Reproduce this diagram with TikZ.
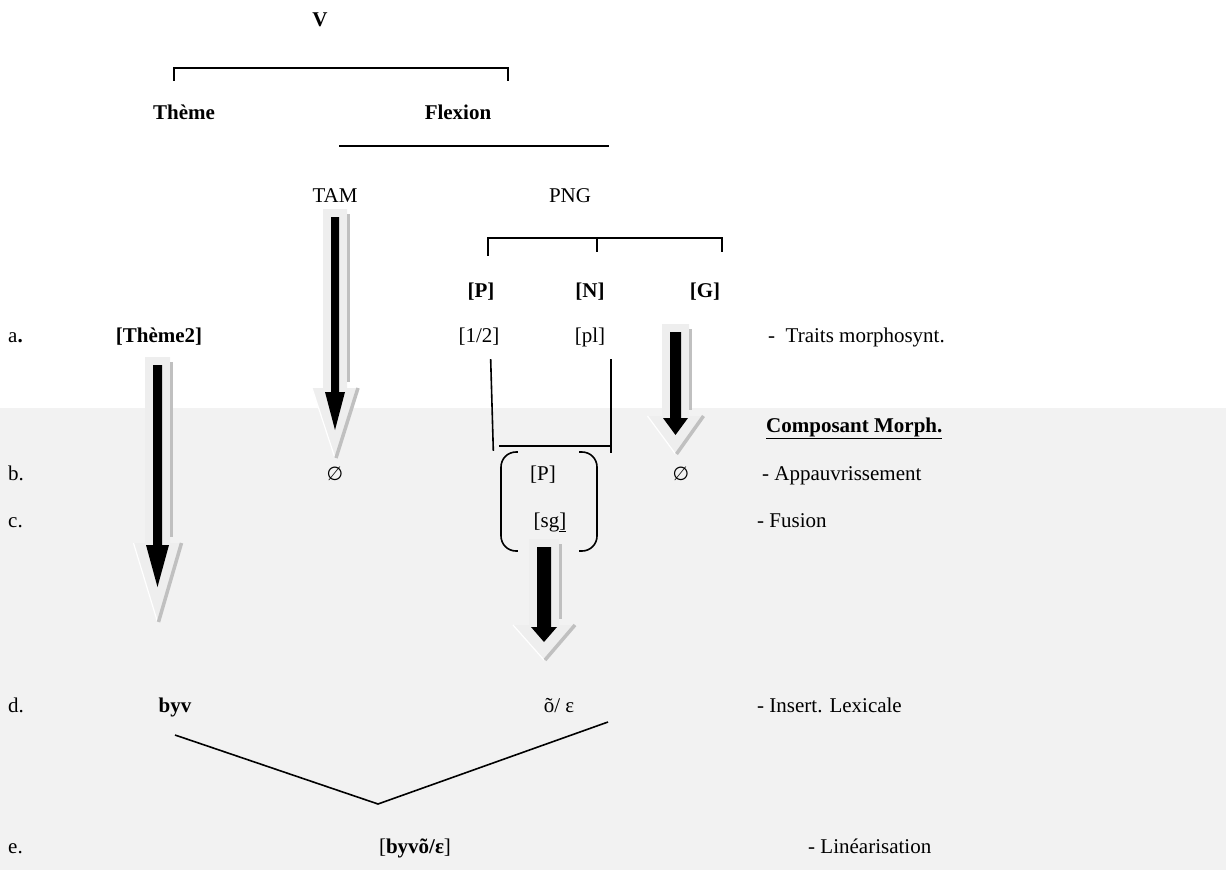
\documentclass[tikz,border=0pt]{standalone}
\usepackage{fontspec}
\setmainfont{Liberation Serif}
\newfontfamily\symfont{DejaVu Sans}
\definecolor{bggray}{HTML}{F2F2F2}
\definecolor{shadowgray}{HTML}{C0C0C0}
\definecolor{lightbox}{HTML}{EEEEEE}
% 3D block arrow: #1 cx, #2 top, #3 head start, #4 tip, #5 shaft half, #6 head half,
% #7 outer head half, #8 outer tip y, #9 outer head y
\newcommand\tdarrow[9]{%
  \fill[lightbox] (#1-#5-8,#2-8) -- (#1+#5+8,#2-8) -- (#1+#5+8,#9) -- (#1+#7,#9)
     -- (#1,#8) -- (#1-#7,#9) -- (#1-#5-8,#9) -- cycle;
  \draw[white, line width=1.2] (#1-#7,#9) -- (#1,#8);
  \draw[shadowgray, line width=3] (#1+#5+9,#2-3) -- (#1+#5+9,#9-6);
  \draw[shadowgray, line width=3.5] (#1+#7,#9) -- (#1+1,#8);
  \fill[black] (#1-#5,#2) -- (#1+#5,#2) -- (#1+#5,#3) -- (#1+#6,#3) -- (#1,#4)
     -- (#1-#6,#3) -- (#1-#5,#3) -- cycle;
}
\begin{document}
\begin{tikzpicture}[x=1pt,y=-1pt,
  txt/.style={inner sep=0pt, anchor=base, font=\fontsize{21}{25}\selectfont},
  lab/.style={txt, anchor=base west},
  brk/.style={line width=1.6pt, line cap=rect}]
\useasboundingbox (0,0) rectangle (1226,870);
\fill[bggray] (0,408) rectangle (1226,870);

% arrows
\tdarrow{157.5}{365}{545}{587}{4.5}{11.5}{24}{622}{543}
\tdarrow{335}{217}{392}{430}{4}{10}{23}{458}{388}
\tdarrow{675.5}{332}{418}{435}{5.5}{12.5}{28}{454}{416}
\tdarrow{544}{547}{627}{642}{7}{13}{31}{660}{625}

% top levels
\node[txt] (V) at (320,27) {\textbf{V}};
\node[txt] (theme) at (184,119) {\textbf{Thème}};
\node[txt] (flex) at (458,119) {\textbf{Flexion}};
\node[txt] (tam) at (335,202) {TAM};
\node[txt] (png) at (570,202) {PNG};
\node[txt] (P) at (481,297) {\textbf{[P]}};
\node[txt] (N) at (590,297) {\textbf{[N]}};
\node[txt] (G) at (705,297) {\textbf{[G]}};

% brackets
\draw[brk] (174,80) -- (174,68) -- (508,68) -- (508,80);
\draw[brk] (340,146) -- (608,146);
\draw[brk] (488,255) -- (488,238) -- (722,238) -- (722,251);
\draw[brk] (597,238) -- (597,251);

% row a
\node[lab] (la) at (8,342) {a\textbf{.}};
\node[txt] (theme2) at (159,342) {\textbf{[Thème2]}};
\node[txt] (p12) at (479,342) {[1/2]};
\node[txt] (pl) at (590,342) {[pl]};
\node[lab] (ra) at (768,342) {-\ \ Traits morphosynt.};

% fusion lines
\draw[brk] (490.7,360) -- (493.3,450);
\draw[brk] (611,360) -- (611,452);
\draw[brk] (500,446) -- (611,446);

\node[lab] (comp) at (766,432) {\textbf{\underline{Composant Morph.}}};

% row b
\node[lab] (lb) at (8,480) {b.};
\node[txt] (e1) at (335,480) {{\symfont\fontsize{19}{24}\selectfont ∅}};
\node[txt] (P2) at (543,480) {[P]};
\node[txt] (e2) at (681,480) {{\symfont\fontsize{19}{24}\selectfont ∅}};
\node[lab] (rb) at (762,480) {- Appauvrissement};

% row c
\node[lab] (lc) at (8,527) {c.};
\node[txt] (sg) at (550,527) {[sg\underline{]}};
\node[lab] (rc) at (757,527) {- Fusion};

% parentheses
\draw[brk, rounded corners=15] (517,452) -- (501,452) -- (501,551) -- (517,551);
\draw[brk, rounded corners=15] (580,452) -- (597,452) -- (597,551) -- (580,551);

% row d
\node[lab] (ld) at (8,712) {d.};
\node[txt] (byv) at (175,712) {\textbf{byv}};
\node[txt] (oe) at (559,712) {õ/ ε};
\node[lab] (rd) at (757,712) {- Insert. Lexicale};

% linearisation lines
\coordinate (l1) at (175,735);
\coordinate (l2) at (378,804);
\coordinate (l3) at (608,722);
\draw[line width=1.6pt] (l1) -- (l2) -- (l3);

% row e
\node[lab] (le) at (8,853) {e.};
\node[txt] (res) at (415,853) {[\textbf{byvõ/ε}]};
\node[lab] (re) at (808,853) {- Linéarisation};
\end{tikzpicture}
\end{document}
